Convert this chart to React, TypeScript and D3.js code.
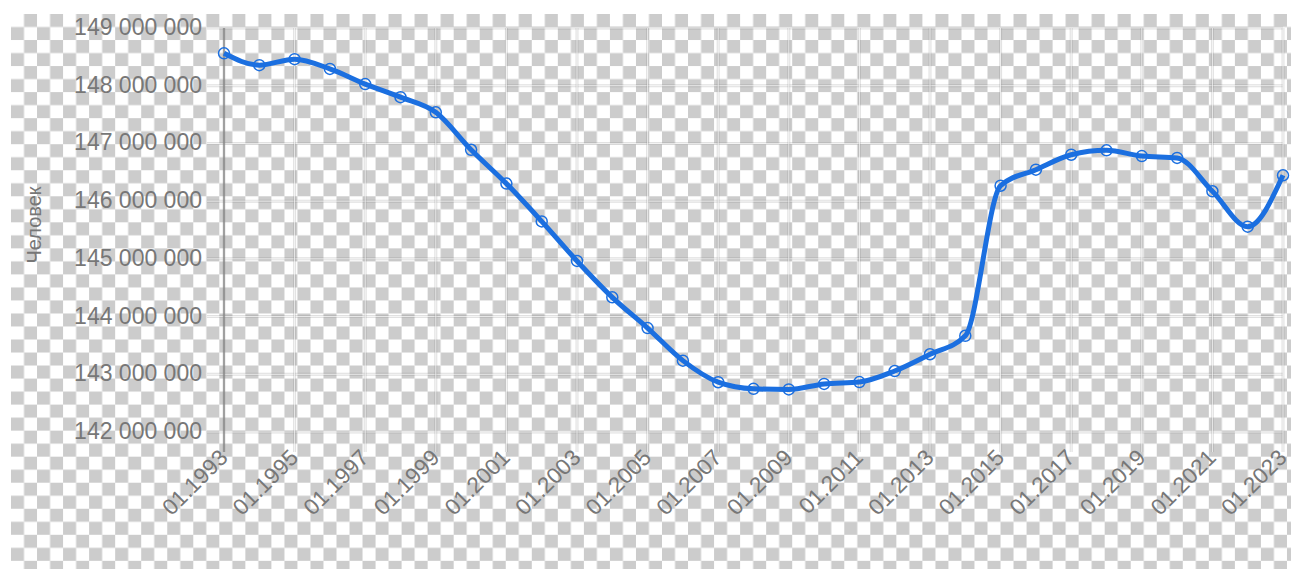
import React from "react";
import * as d3 from "d3";

const years: number[] = [1993,1994,1995,1996,1997,1998,1999,2000,2001,2002,2003,2004,2005,2006,2007,2008,2009,2010,2011,2012,2013,2014,2015,2016,2017,2018,2019,2020,2021,2022,2023];
const population: number[] = [148561694,148355867,148459937,148291638,148028613,147802133,147539426,146890128,146303611,145649334,144963650,144333586,143801046,143236582,142862692,142747535,142737196,142833502,142865433,143056383,143347059,143666931,146267288,146544710,146804372,146880432,146780720,146748590,146171015,145557576,146447424];
const yTicks: number[] = [142000000,143000000,144000000,145000000,146000000,147000000,148000000,149000000];
const xTicks: number[] = [1993,1995,1997,1999,2001,2003,2005,2007,2009,2011,2013,2015,2017,2019,2021,2023];
const yTitle = "Человек";

const W = 1291, H = 569;
const CELL = 13.02;

export default function App() {
  const x = d3.scaleLinear().domain([1993, 2023]).range([224, 1283]);
  const y = d3.scaleLinear().domain([142000000, 149000000]).range([432, 28]);
  const fmt = (v: number) => d3.format(",")(v).replace(/,/g, " ");
  const line = d3.line<number>()
    .x((_, i) => x(years[i]))
    .y((d) => y(d))
    .curve(d3.curveMonotoneX);
  const font = "'Liberation Sans', Arial, sans-serif";
  const blue = "#1b6fe0";
  const gridBand = "rgba(120,120,120,0.22)";
  const gridCore = "rgba(255,255,255,0.7)";
  return (
    <svg width={W} height={H} style={{ position: "absolute", left: 0, top: 0, background: "#fff" }}>
      <defs>
        <pattern id="chk" patternUnits="userSpaceOnUse" x={11} y={14} width={CELL * 2} height={CELL * 2}>
          <rect x={0} y={0} width={CELL * 2} height={CELL * 2} fill="#ffffff" />
          <rect x={CELL} y={0} width={CELL} height={CELL} fill="#cccccc" />
          <rect x={0} y={CELL} width={CELL} height={CELL} fill="#cccccc" />
        </pattern>
      </defs>
      <rect x={11} y={14} width={W - 11} height={H - 14} fill="url(#chk)" />
      {/* horizontal gridlines */}
      {yTicks.map((t) => (
        <g key={"h" + t}>
          <line x1={207} x2={1283} y1={y(t)} y2={y(t)} stroke={gridBand} strokeWidth={3} />
          <line x1={207} x2={1283} y1={y(t)} y2={y(t)} stroke={gridCore} strokeWidth={1} />
        </g>
      ))}
      {/* vertical gridlines */}
      {xTicks.map((t, i) => (
        <g key={"v" + t}>
          <line x1={x(t)} x2={x(t)} y1={28} y2={452} stroke={gridBand} strokeWidth={3} />
          <line x1={x(t)} x2={x(t)} y1={28} y2={452} stroke={i === 0 ? "#8a8a8a" : gridCore} strokeWidth={i === 0 ? 1.5 : 1} />
        </g>
      ))}
      {/* y labels */}
      {yTicks.map((t) => (
        <text key={"yl" + t} x={202} y={y(t) + 7} textAnchor="end" fontFamily={font} fontSize={23} fill="#777">
          {fmt(t)}
        </text>
      ))}
      {/* x labels */}
      {xTicks.map((t) => (
        <text key={"xl" + t} transform={`translate(${x(t) + 5},${459}) rotate(-45)`} textAnchor="end" fontFamily={font} fontSize={22.5} fill="#777">
          {"01." + t}
        </text>
      ))}
      <text transform={`translate(41,225) rotate(-90)`} textAnchor="middle" fontFamily={font} fontSize={20} fill="#777">
        {yTitle}
      </text>
      <path d={line(population) || ""} fill="none" stroke={blue} strokeWidth={5} strokeLinejoin="round" />
      {population.map((v, i) => (
        <circle key={"c" + i} cx={x(years[i])} cy={y(v)} r={5.5} fill="none" stroke={blue} strokeWidth={1.5} />
      ))}
    </svg>
  );
}
